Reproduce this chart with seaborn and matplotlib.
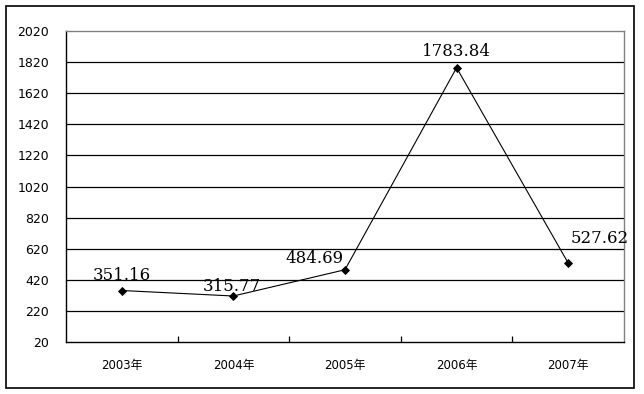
import pandas as pd
import matplotlib
matplotlib.use('Agg')
import matplotlib.pyplot as plt
from matplotlib.patches import Rectangle
from matplotlib.ticker import FixedLocator
import seaborn as sns

# Chart data
years = ['2003年', '2004年', '2005年', '2006年', '2007年']
values = [351.16, 315.77, 484.69, 1783.84, 527.62]
y_ticks = list(range(20, 2021, 200))

# label offsets in pixels (dx, dy) relative to each point
label_offsets = [(0, 15), (-2, 10), (-30, 11), (0, 16), (31, 25)]

df = pd.DataFrame({'year': years, 'value': values})

sns.set_theme(style='white')
plt.rcParams['font.family'] = ['DejaVu Sans', 'Noto Sans CJK SC']

fig = plt.figure(figsize=(6.44, 3.94), dpi=100)
ax = fig.add_axes([66 / 644, 1 - 342 / 394, 558 / 644, 311 / 394])

sns.pointplot(data=df, x='year', y='value', color='black', markers='D',
              linestyles='-', linewidth=0.8, markersize=4.5, ax=ax)

ax.set_xlim(-0.5, len(years) - 0.5)
ax.set_ylim(20, 2020)
ax.set_yticks(y_ticks)
ax.set_yticklabels([str(t) for t in y_ticks], fontsize=9)
for lbl in ax.get_xticklabels():
    lbl.set_fontsize(8.5)
ax.set_xlabel('')
ax.set_ylabel('')

# horizontal gridlines
for t in y_ticks[1:-1]:
    ax.axhline(t, color='black', linewidth=0.9, zorder=0)

ax.tick_params(axis='y', length=0, pad=12, colors='black')
ax.tick_params(axis='x', which='major', length=0, pad=12, colors='black')
ax.xaxis.set_minor_locator(FixedLocator([0.5, 1.5, 2.5, 3.5]))
ax.tick_params(axis='x', which='minor', direction='in', length=4, width=0.9,
               color='black', bottom=True)

for side in ['left', 'bottom']:
    ax.spines[side].set_color('black')
    ax.spines[side].set_linewidth(1.0)
for side in ['top', 'right']:
    ax.spines[side].set_color('#808080')
    ax.spines[side].set_linewidth(1.0)

# value labels
for i, (v, (dx, dy)) in enumerate(zip(values, label_offsets)):
    ax.annotate(f'{v:.2f}', xy=(i, v), xytext=(dx, dy), textcoords='offset pixels',
                ha='center', va='center', fontsize=12, family='DejaVu Serif',
                color='black')

# outer chart border
fig.patches.append(Rectangle((6 / 644, 6 / 394), 628 / 644, 382 / 394,
                             transform=fig.transFigure, fill=False,
                             edgecolor='black', linewidth=1.2))

fig.savefig('out.png', dpi=100)
